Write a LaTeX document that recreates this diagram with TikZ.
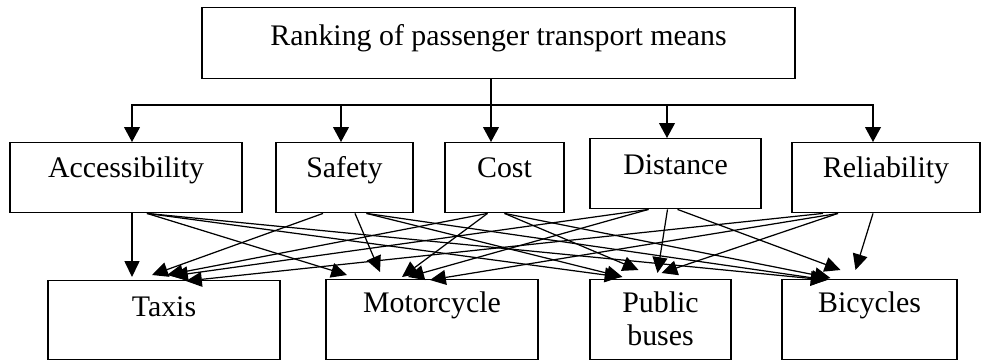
\documentclass[tikz,border=0pt]{standalone}
\usepackage{fontspec}
\setmainfont{Liberation Serif}
\usetikzlibrary{arrows.meta,calc}

\begin{document}
\begin{tikzpicture}[x=0.02cm,y=-0.02cm,
	font=\fontsize{17}{18.7}\selectfont,
	box/.style={draw,rectangle,line width=0.8pt,inner sep=0pt,anchor=north,align=center},
	drop/.style={line width=0.8pt,-{Triangle[width=9pt,length=8.5pt]}},
	link/.style={line width=0.7pt,-{Triangle[width=8.5pt,length=9pt]}}]

	\def\px{0.02cm}
	\useasboundingbox (0,0) rectangle (981,360);

	\node[box,minimum width=593*\px,text height=38*\px,text depth=33*\px] (rank) at (498.5,7) {Ranking of passenger transport means};

	\node[box,minimum width=232*\px,text height=35*\px,text depth=35*\px] (acc) at (126,142) {Accessibility};
	\node[box,minimum width=137*\px,text height=35*\px,text depth=35*\px] (safety) at (344.5,142) {Safety};
	\node[box,minimum width=119*\px,text height=35*\px,text depth=35*\px] (cost) at (504.5,142) {Cost};
	\node[box,minimum width=171*\px,text height=36*\px,text depth=34*\px] (dist) at (675.5,138) {Distance};
	\node[box,minimum width=188*\px,text height=35*\px,text depth=35*\px] (rel) at (886,142) {Reliability};

	\node[box,minimum width=232*\px,text height=36*\px,text depth=43*\px] (taxis) at (164,280) {Taxis};
	\node[box,minimum width=212*\px,text height=33*\px,text depth=47*\px] (moto) at (432,279) {Motorcycle};
	\node[box,minimum width=141*\px,text height=66*\px,text depth=14*\px] (buses) at (660.5,279) {Public\\buses};
	\node[box,minimum width=175*\px,text height=33*\px,text depth=47*\px] (bikes) at (869.5,279) {Bicycles};

	\coordinate (split) at (491,105);
	\draw[line width=0.8pt] ($(rank.south)+(-7.5,0)$) -- (split);
	\foreach \c/\dx in {acc/6,safety/-3.5,cost/-13.5,dist/-8.5,rel/-13}
		\draw[drop] (split) -| ($(\c.north)+(\dx,0)$);

	\foreach \s/\sx/\t/\tx/\ty in {
		acc/6/taxis/-32/-3, acc/21/moto/-85/-4, acc/21/buses/-40/-2, acc/21/bikes/-43/1,
		safety/-21.5/taxis/-12/-5, safety/10.5/moto/-52/-7, safety/22/buses/-38/-2, safety/22/bikes/-42/1,
		cost/-17/taxis/3/-5, cost/-17/moto/-30/-2, cost/0/buses/-22/-9, cost/0/bikes/-39/-1,
		dist/-27/taxis/8/-4, dist/-27/moto/-24/-2, dist/-8/buses/-3/-6, dist/2/bikes/-29/-9,
		rel/-63/taxis/22/1, rel/-48/moto/-2/1, rel/-48/buses/1/-6, rel/-13/bikes/-14/-9}
		\draw[link] ($(\s.south)+(\sx,0)$) -- ($(\t.north)+(\tx,\ty)$);

\end{tikzpicture}
\end{document}
